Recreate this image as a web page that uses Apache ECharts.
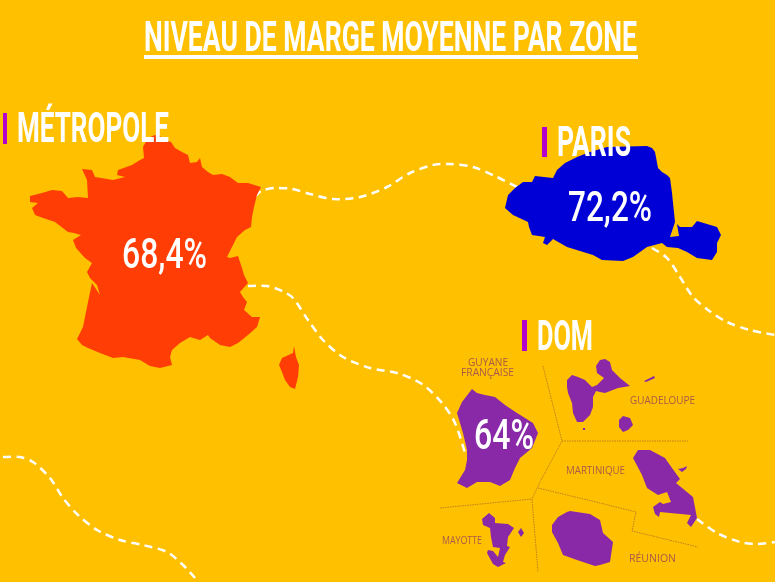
<!DOCTYPE html>
<html>
<head>
<meta charset="utf-8">
<title>Niveau de marge moyenne par zone</title>
<script src="https://cdn.jsdelivr.net/npm/echarts@6/dist/echarts.min.js"></script>
<style>
html,body{margin:0;padding:0;background:#FFC000;}
#main{width:775px;height:582px;}
</style>
</head>
<body>
<div id="main"></div>
<script>
var chartTitle = 'NIVEAU DE MARGE MOYENNE PAR ZONE';
var zoneNames = ['MÉTROPOLE', 'PARIS', 'DOM'];
var zoneRates = [68.4, 72.2, 64];
var domNames = ['GUYANE', 'FRANÇAISE', 'GUADELOUPE', 'MARTINIQUE', 'MAYOTTE', 'RÉUNION'];

// outlines, [x, y] in picture units
var france = [[144,158],[143,147],[148,138],[155,135],[160,136],[163,139],[171,142],[175,148],[182,152],[188,155],[190,163],[197,162],[200,158],[202,167],[208,172],[213,175],[222,174],[230,177],[238,183],[248,183],[261,187],[257,195],[254,207],[252,217],[251,227],[245,230],[237,237],[232,247],[227,257],[230,258],[238,256],[242,268],[244,275],[248,283],[240,292],[243,297],[247,302],[244,310],[252,317],[260,317],[257,327],[248,335],[238,343],[230,347],[220,345],[210,338],[208,335],[200,340],[190,337],[180,343],[172,350],[170,357],[172,365],[160,368],[150,366],[140,360],[123,357],[113,358],[100,353],[88,348],[82,345],[77,339],[83,327],[87,307],[88,302],[92,283],[100,295],[97,285],[90,278],[87,272],[92,263],[85,258],[76,248],[73,240],[81,235],[74,233],[68,232],[55,222],[43,218],[35,215],[32,208],[38,203],[30,202],[30,196],[42,193],[52,190],[62,191],[68,198],[78,197],[88,198],[87,180],[82,169],[92,170],[95,177],[113,180],[125,177],[117,175],[118,170],[132,165],[140,160]];
var corse = [[294,346],[296,357],[299,365],[298,377],[295,389],[290,387],[285,380],[282,372],[279,365],[282,358],[293,353]];
var paris = [[505,208],[508,195],[515,188],[523,182],[532,182],[535,176],[553,178],[557,170],[565,163],[577,157],[590,152],[607,147],[647,146],[652,148],[655,152],[658,168],[662,172],[667,175],[670,178],[672,193],[675,222],[670,237],[679,236],[677,224],[680,227],[692,227],[697,221],[717,227],[721,235],[717,243],[717,252],[712,260],[697,258],[687,252],[678,248],[667,247],[662,243],[647,247],[633,257],[623,261],[602,260],[593,255],[567,247],[553,239],[547,245],[543,243],[545,237],[532,235],[529,227],[528,222],[513,215]];
var guyane = [[472,389],[477,393],[485,395],[495,397],[505,405],[517,413],[525,418],[533,423],[538,433],[532,448],[520,458],[515,468],[510,480],[500,486],[490,482],[477,482],[467,488],[457,483],[465,470],[467,460],[467,450],[463,433],[457,413],[462,402]];
var guadeloupe = [[567,380],[572,375],[578,377],[585,380],[592,387],[597,385],[604,378],[597,373],[596,366],[600,360],[605,359],[610,362],[612,370],[620,378],[630,386],[618,388],[605,393],[600,392],[596,391],[593,397],[593,407],[590,415],[583,422],[577,422],[573,413],[572,403],[568,393],[567,387]];
var marieGalante = [[619,420],[623,416],[630,418],[633,425],[628,430],[623,432],[619,427]];
var desirade = [[644,381],[654,376],[655,378],[646,382]];
var saintes = [[583,428],[585,428],[585,430],[583,430]];
var martinique = [[633,458],[638,450],[650,450],[665,458],[672,468],[680,479],[676,483],[693,497],[697,518],[691,527],[687,523],[691,515],[660,512],[659,517],[655,514],[653,507],[660,502],[663,504],[671,502],[667,492],[658,495],[647,488],[642,475]];
var caravelle = [[678,469],[683,468],[687,466],[686,469],[682,472]];
var reunion = [[570,511],[590,514],[600,520],[603,533],[613,542],[610,562],[600,565],[595,566],[577,560],[563,555],[558,543],[552,532],[552,525],[558,517],[567,512]];
var mayotte = [[482,519],[489,513],[495,518],[495,523],[508,524],[514,528],[508,537],[507,546],[510,547],[505,555],[503,562],[506,563],[498,567],[493,564],[487,553],[488,550],[493,551],[498,557],[500,548],[493,547],[491,537],[490,528],[483,525]];
var petiteTerre = [[518,532],[521,528],[524,533],[521,537]];

var routes = [
  [[255,197],[261,191],[275,188],[292,189],[310,194],[333,199],[360,197],[387,187],[410,173],[433,165],[450,164],[473,167],[497,177],[517,187]],
  [[652,248],[667,258],[680,277],[693,297],[708,310],[727,322],[750,330],[775,335]],
  [[248,286],[267,286],[282,291],[293,298],[308,320],[323,340],[343,357],[370,368],[397,373],[422,384],[442,403],[455,423],[465,453]],
  [[3,457],[20,457],[33,462],[50,478],[63,498],[78,515],[97,530],[120,540],[143,545],[167,552],[183,565],[195,578]],
  [[697,519],[717,533],[740,542],[757,544],[775,542]]
];
var dividers = [
  [[543,366],[562,441],[540,482],[532,499]],
  [[562,441],[688,441]],
  [[440,508],[532,499],[538,572]],
  [[538,488],[600,503],[636,512],[632,531],[698,547]]
];

function toGeo(ring){
  var out = ring.map(function(p){ return [p[0], -p[1]]; });
  out.push(out[0]);
  return [out];
}
function feature(name, rings){
  return {
    type: 'Feature',
    properties: {name: name},
    geometry: {type: 'MultiPolygon', coordinates: rings.map(toGeo)}
  };
}
echarts.registerMap('zones', {
  type: 'FeatureCollection',
  features: [
    feature(zoneNames[0], [france, corse]),
    feature(zoneNames[1], [paris]),
    feature(zoneNames[2], [guyane, guadeloupe, marieGalante, desirade, saintes, martinique, caravelle, reunion, mayotte, petiteTerre])
  ]
});

var zoneColors = ['#FF3D04', '#0000D6', '#8929A8'];
var measure = document.createElement('canvas').getContext('2d');
function rate(v){ return String(v).replace('.', ',') + '%'; }

// stretches the text so it covers the same width as in the picture
function fitText(text, left, midY, width, font, fill){
  measure.font = font;
  return {
    type: 'text', z: 100, silent: true,
    x: left, y: midY,
    scaleX: width / measure.measureText(text).width,
    style: {text: text, font: font, fill: fill, align: 'left', verticalAlign: 'middle'}
  };
}
function box(x, y, w, h, fill){
  return {type: 'rect', z: 100, silent: true, shape: {x: x, y: y, width: w, height: h}, style: {fill: fill}};
}

var bigFont = 'bold 42px Roboto';
var valFont = '500 42px Roboto';
var smallFont = '10px "Open Sans"';
var smallColor = '#A85A48';
var barColor = '#B400CC';

var elements = [
  fitText(chartTitle, 144, 40, 493, bigFont, '#fff'),
  box(144, 55, 494, 4, '#fff'),
  box(3, 113, 4, 31, barColor),
  fitText(zoneNames[0], 17, 131, 152, bigFont, '#fff'),
  box(542, 127, 5, 30, barColor),
  fitText(zoneNames[1], 557, 145, 74, bigFont, '#fff'),
  box(522, 320, 5, 31, barColor),
  fitText(zoneNames[2], 537, 339, 56, bigFont, '#fff'),
  fitText(rate(zoneRates[0]), 122, 257, 85, valFont, '#fff'),
  fitText(rate(zoneRates[1]), 568, 210, 84, valFont, '#fff'),
  fitText(rate(zoneRates[2]), 474, 438, 60, valFont, '#fff'),
  fitText(domNames[0], 468, 363, 40, smallFont, smallColor),
  fitText(domNames[1], 461, 373, 53, smallFont, smallColor),
  fitText(domNames[2], 630, 401, 65, smallFont, smallColor),
  fitText(domNames[3], 566, 471, 59, smallFont, smallColor),
  fitText(domNames[4], 442, 541, 40, smallFont, smallColor),
  fitText(domNames[5], 629, 559, 47, '11px "Open Sans"', smallColor)
];

var chart = echarts.init(document.getElementById('main'), null, {renderer: 'canvas'});
chart.setOption({
  backgroundColor: '#FFC000',
  animation: false,
  tooltip: {show: false},
  geo: {
    map: 'zones',
    z: 5,
    silent: true,
    roam: false,
    aspectScale: 1,
    left: 0, top: 0, width: 775, height: 582,
    boundingCoords: [[0, 0], [775, -582]],
    label: {show: false},
    itemStyle: {borderWidth: 0},
    regions: zoneNames.map(function(name, i){
      return {name: name, itemStyle: {areaColor: zoneColors[i], borderWidth: 0}};
    })
  },
  series: [
    {
      type: 'custom',
      coordinateSystem: 'geo',
      z: 1,
      silent: true,
      data: routes.map(function(r){ return r[0]; }),
      renderItem: function(params, api){
        var points = routes[params.dataIndex].map(function(p){ return api.coord([p[0], -p[1]]); });
        return {
          type: 'polyline',
          shape: {points: points, smooth: 0.3},
          style: {stroke: '#fff', fill: null, lineWidth: 2.5, lineDash: [8, 5.5]}
        };
      }
    },
    {
      type: 'custom',
      coordinateSystem: 'geo',
      z: 6,
      silent: true,
      data: dividers.map(function(r){ return r[0]; }),
      renderItem: function(params, api){
        var points = dividers[params.dataIndex].map(function(p){ return api.coord([p[0], -p[1]]); });
        return {
          type: 'polyline',
          shape: {points: points},
          style: {stroke: '#B0702A', fill: null, lineWidth: 0.8, lineDash: [1.5, 1]}
        };
      }
    }
  ],
  graphic: {elements: elements}
});
</script>
</body>
</html>
